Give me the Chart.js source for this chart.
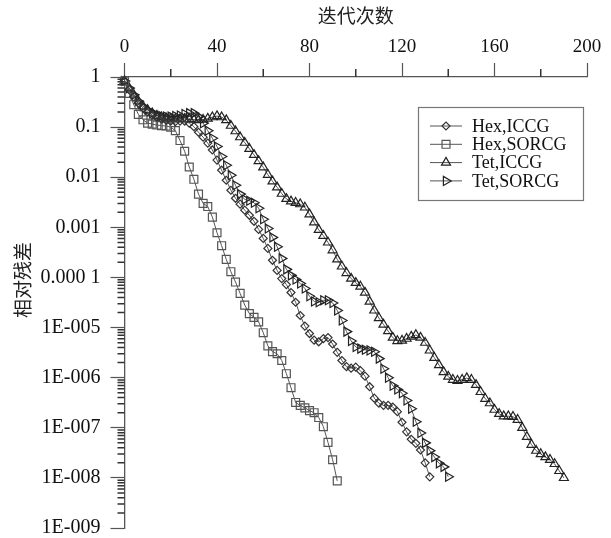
<!DOCTYPE html>
<html>
<head>
<meta charset="utf-8">
<script src="https://cdn.jsdelivr.net/npm/chart.js@4"></script>
<style>
  html, body { margin: 0; padding: 0; background: #fff; }
  canvas { display: block; }
</style>
</head>
<body>
<canvas id="residualChart" width="611" height="538"></canvas>
<script>
// iterations (markers every 2 iterations)
const iterations = [0, 2, 4, 6, 8, 10, 12, 14, 16, 18, 20, 22, 24, 26, 28, 30, 32, 34, 36, 38,
  40, 42, 44, 46, 48, 50, 52, 54, 56, 58, 60, 62, 64, 66, 68, 70, 72, 74, 76, 78,
  80, 82, 84, 86, 88, 90, 92, 94, 96, 98, 100, 102, 104, 106, 108, 110, 112, 114, 116, 118,
  120, 122, 124, 126, 128, 130, 132, 134, 136, 138, 140, 142, 144, 146, 148, 150, 152, 154, 156, 158,
  160, 162, 164, 166, 168, 170, 172, 174, 176, 178, 180, 182, 184, 186, 188, 190];

// relative residual
const hexIccg = [8.5e-1, 5.6e-1, 4.0e-1, 3.0e-1, 2.4e-1, 2.0e-1, 1.74e-1, 1.58e-1, 1.45e-1, 1.38e-1,
  1.32e-1, 1.29e-1, 1.32e-1, 1.32e-1, 1.2e-1, 1.02e-1, 7.9e-2, 6.3e-2, 4.8e-2, 3.5e-2,
  2.2e-2, 1.38e-2, 8.7e-3, 5.5e-3, 3.8e-3, 2.9e-3, 2.2e-3, 1.74e-3, 1.32e-3, 9.1e-4,
  6.0e-4, 3.8e-4, 2.2e-4, 1.38e-4, 9.5e-5, 7.2e-5, 5.0e-5, 3.2e-5, 1.74e-5, 1.07e-5,
  7.6e-6, 5.6e-6, 5.2e-6, 6.0e-6, 6.3e-6, 4.7e-6, 3.2e-6, 2.2e-6, 1.66e-6, 1.55e-6,
  1.62e-6, 1.38e-6, 1.07e-6, 6.6e-7, 3.9e-7, 3.1e-7, 2.8e-7, 2.8e-7, 2.6e-7, 2.1e-7,
  1.29e-7, 8.3e-8, 5.9e-8, 4.9e-8, 3.6e-8, 2.0e-8, 1.05e-8];

const hexSorcg = [8.3e-1, 4.7e-1, 2.8e-1, 1.8e-1, 1.4e-1, 1.2e-1, 1.15e-1, 1.1e-1, 1.07e-1, 1.05e-1,
  1.0e-1, 8.5e-2, 5.4e-2, 3.3e-2, 1.6e-2, 9.1e-3, 4.6e-3, 3.0e-3, 2.6e-3, 1.6e-3,
  7.8e-4, 4.3e-4, 2.3e-4, 1.3e-4, 8.1e-5, 4.8e-5, 2.8e-5, 1.9e-5, 1.6e-5, 1.3e-5,
  7.9e-6, 4.3e-6, 3.3e-6, 3.0e-6, 2.2e-6, 1.2e-6, 6.3e-7, 3.2e-7, 2.8e-7, 2.5e-7,
  2.2e-7, 2.0e-7, 1.6e-7, 1.05e-7, 5.1e-8, 2.3e-8, 8.7e-9];

const tetIccg = [8.3e-1, 6.0e-1, 4.4e-1, 3.3e-1, 2.6e-1, 2.2e-1, 1.9e-1, 1.7e-1, 1.58e-1, 1.51e-1,
  1.48e-1, 1.45e-1, 1.45e-1, 1.45e-1, 1.45e-1, 1.41e-1, 1.38e-1, 1.41e-1, 1.48e-1, 1.58e-1,
  1.66e-1, 1.58e-1, 1.38e-1, 1.07e-1, 8.3e-2, 6.3e-2, 4.9e-2, 3.7e-2, 2.8e-2, 2.1e-2,
  1.58e-2, 1.12e-2, 8.3e-3, 6.3e-3, 4.7e-3, 3.7e-3, 3.3e-3, 3.1e-3, 2.9e-3, 2.5e-3,
  1.82e-3, 1.26e-3, 8.9e-4, 6.8e-4, 5.0e-4, 3.5e-4, 2.3e-4, 1.66e-4, 1.23e-4, 9.5e-5,
  7.8e-5, 6.6e-5, 5.0e-5, 3.3e-5, 2.2e-5, 1.55e-5, 1.15e-5, 8.5e-6, 6.3e-6, 5.4e-6,
  5.5e-6, 6.0e-6, 6.6e-6, 7.1e-6, 6.3e-6, 5.0e-6, 3.5e-6, 2.5e-6, 1.78e-6, 1.29e-6,
  1.05e-6, 9.1e-7, 8.7e-7, 9.1e-7, 9.8e-7, 9.1e-7, 7.2e-7, 5.2e-7, 3.8e-7, 3.1e-7,
  2.3e-7, 1.9e-7, 1.7e-7, 1.7e-7, 1.66e-7, 1.45e-7, 1.0e-7, 6.6e-8, 4.6e-8, 3.5e-8,
  3.0e-8, 2.6e-8, 2.3e-8, 1.9e-8, 1.38e-8, 1.0e-8];

const tetSorcg = [8.3e-1, 6.0e-1, 4.4e-1, 3.3e-1, 2.6e-1, 2.2e-1, 1.9e-1, 1.74e-1, 1.66e-1, 1.62e-1,
  1.62e-1, 1.66e-1, 1.7e-1, 1.82e-1, 1.9e-1, 1.9e-1, 1.62e-1, 1.2e-1, 8.5e-2, 6.0e-2,
  4.1e-2, 2.6e-2, 1.74e-2, 1.1e-2, 6.9e-3, 4.6e-3, 3.6e-3, 3.4e-3, 3.1e-3, 2.4e-3,
  1.45e-3, 9.5e-4, 6.3e-4, 4.1e-4, 2.4e-4, 1.45e-4, 1.1e-4, 9.1e-5, 7.6e-5, 6.0e-5,
  4.2e-5, 3.3e-5, 3.2e-5, 3.5e-5, 3.5e-5, 3.1e-5, 2.2e-5, 1.38e-5, 8.3e-6, 5.4e-6,
  4.1e-6, 3.8e-6, 3.6e-6, 3.5e-6, 3.3e-6, 2.4e-6, 1.51e-6, 1.0e-6, 6.9e-7, 5.8e-7,
  4.9e-7, 3.5e-7, 2.4e-7, 1.32e-7, 7.9e-8, 5.0e-8, 3.5e-8, 2.6e-8, 1.95e-8, 1.66e-8,
  1.05e-8];

const seriesNames = ["Hex,ICCG", "Hex,SORCG", "Tet,ICCG", "Tet,SORCG"];

// axis ticks
const xMajorTicks = [0, 40, 80, 120, 160, 200];
const xMinorTicks = [20, 60, 100, 140, 180];
const yTickValues = [1e-9, 1e-8, 1e-7, 1e-6, 1e-5, 1e-4, 1e-3, 1e-2, 1e-1, 1];
const yTickLabels = ["1E-009", "1E-008", "1E-007", "1E-006", "1E-005", "0.000 1", "0.001", "0.01", "0.1", "1"];
const yMinorMultiples = [2, 3, 4, 5, 6, 7, 8, 9];

const serif = "'Liberation Serif', 'Times New Roman', serif";
const cjk = "'Noto Sans CJK SC', 'Noto Sans', sans-serif";
const axisColor = "#555";

function toPoints(values) {
    return values.map((v, i) => ({ x: iterations[i], y: v }));
}

function majorIndex(v) {
    return yTickValues.findIndex(t => Math.abs(Math.log10(t) - Math.log10(v)) < 1e-6);
}

const markerStyles = [
    { pointStyle: "rectRot", radius: 4, rotation: 0, color: "#333" },
    { pointStyle: "rect", radius: 5.6, rotation: 0, color: "#555" },
    { pointStyle: "triangle", radius: 5.2, rotation: 0, color: "#222" },
    { pointStyle: "triangle", radius: 5.2, rotation: 90, color: "#222" }
];

const seriesValues = [hexIccg, hexSorcg, tetIccg, tetSorcg];

const datasets = seriesValues.map((vals, k) => ({
    label: seriesNames[k],
    data: toPoints(vals),
    borderColor: "#555",
    borderWidth: 1,
    pointStyle: markerStyles[k].pointStyle,
    pointRadius: markerStyles[k].radius,
    pointRotation: markerStyles[k].rotation,
    pointBorderColor: markerStyles[k].color,
    pointBackgroundColor: "rgba(0,0,0,0)",
    pointBorderWidth: 1.2,
    clip: false
}));

// short tick marks between the labelled ones
const minorTicks = {
    id: "minorTicks",
    afterDraw(chart) {
        const c = chart.ctx;
        const xs = chart.scales.x, ys = chart.scales.y;
        const area = chart.chartArea;
        c.save();
        c.strokeStyle = "#333";
        c.lineWidth = 1.5;
        c.beginPath();
        xMinorTicks.forEach(v => {
            const px = xs.getPixelForValue(v);
            c.moveTo(px, area.top);
            c.lineTo(px, area.top - 8);
        });
        yTickValues.forEach((d, i) => {
            if (i === yTickValues.length - 1) return;
            yMinorMultiples.forEach(m => {
                const py = ys.getPixelForValue(m * d);
                c.moveTo(area.left, py);
                c.lineTo(area.left - 7, py);
            });
        });
        c.stroke();
        c.restore();
    }
};

function drawMarker(c, st, x, y) {
    if (Chart.helpers && Chart.helpers.drawPoint) {
        Chart.helpers.drawPoint(c, { pointStyle: st.pointStyle, rotation: st.rotation, radius: st.radius, borderWidth: 1.2 }, x, y);
    }
}

// legend box inside the plot
const legendBox = {
    id: "legendBox",
    afterDraw(chart) {
        const c = chart.ctx;
        const left = 418, top = 107, w = 165, h = 93;
        c.save();
        c.strokeStyle = "#777";
        c.lineWidth = 1.2;
        c.strokeRect(left + 0.5, top + 0.5, w, h);
        c.font = "18px " + serif;
        c.textBaseline = "middle";
        c.textAlign = "left";
        seriesNames.forEach((name, k) => {
            const cy = top + 19 + k * 18.3;
            c.strokeStyle = "#555";
            c.lineWidth = 1;
            c.beginPath();
            c.moveTo(left + 12, cy);
            c.lineTo(left + 44, cy);
            c.stroke();
            c.strokeStyle = markerStyles[k].color;
            c.fillStyle = "rgba(0,0,0,0)";
            c.lineWidth = 1.2;
            drawMarker(c, markerStyles[k], left + 28, cy);
            c.fillStyle = "#111";
            c.fillText(name, left + 54, cy + 1);
        });
        c.restore();
    }
};

// axis titles
const axisTitles = {
    id: "axisTitles",
    afterDraw(chart) {
        const c = chart.ctx;
        c.save();
        c.fillStyle = "#222";
        c.font = "19px " + cjk;
        c.textAlign = "center";
        c.textBaseline = "middle";
        c.fillText("迭代次数", (chart.chartArea.left + chart.chartArea.right) / 2, 16);
        c.translate(23, 280);
        c.rotate(-Math.PI / 2);
        c.fillText("相对残差", 0, 0);
        c.restore();
    }
};

const ctx = document.getElementById("residualChart").getContext("2d");

const residualChart = new Chart(ctx, {
    type: "line",
    data: { datasets: datasets },
    options: {
        responsive: false,
        animation: false,
        layout: { padding: { left: 0, top: 0, right: 24, bottom: 10 } },
        plugins: {
            legend: { display: false },
            tooltip: { enabled: false }
        },
        scales: {
            x: {
                type: "linear",
                position: "top",
                min: 0,
                max: 200,
                afterBuildTicks: s => { s.ticks = xMajorTicks.map(v => ({ value: v })); },
                afterFit: s => { s.height = 77; s.paddingLeft = 0; s.paddingRight = 0; },
                ticks: {
                    font: { family: serif, size: 19, lineHeight: 1 },
                    color: "#111",
                    padding: 6,
                    maxRotation: 0,
                    autoSkip: false
                },
                grid: { drawOnChartArea: false, drawTicks: true, tickLength: 14, tickColor: axisColor, tickWidth: 1.2 },
                border: { display: true, color: axisColor, width: 1.3 }
            },
            y: {
                type: "logarithmic",
                min: 1e-9,
                max: 1,
                afterBuildTicks: s => { s.ticks = yTickValues.map(v => ({ value: v })); },
                afterFit: s => { s.width = 124.5; s.paddingTop = 0; s.paddingBottom = 0; },
                ticks: {
                    font: { family: serif, size: 20, lineHeight: 1 },
                    color: "#111",
                    padding: 10,
                    autoSkip: false,
                    callback: (v) => {
                        const i = majorIndex(v);
                        return i >= 0 ? yTickLabels[i] : "";
                    }
                },
                grid: { drawOnChartArea: false, drawTicks: true, tickLength: 14, tickColor: axisColor, tickWidth: 1.2 },
                border: { display: true, color: axisColor, width: 1.3 }
            }
        }
    },
    plugins: [minorTicks, legendBox, axisTitles]
});
</script>
</body>
</html>
